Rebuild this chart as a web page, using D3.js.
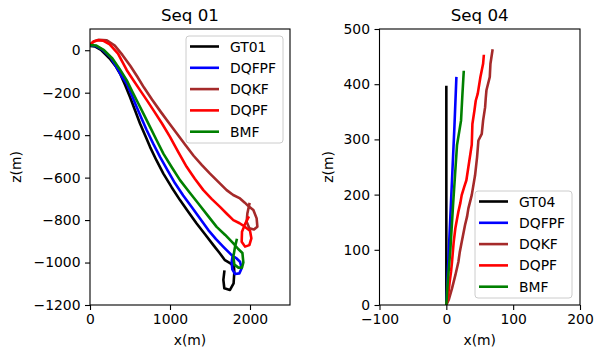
<!DOCTYPE html>
<html><head><meta charset="utf-8">
<script src="https://cdn.jsdelivr.net/npm/d3@7"></script>
<style>body{margin:0;background:#fff}svg{display:block}text{font-family:"DejaVu Sans",sans-serif;fill:#000}</style>
</head><body><svg id="c" width="597" height="350"></svg>
<script>
// ---- Data ----
const seriesNames1 = ["GT01","DQFPF","DQKF","DQPF","BMF"];
const seriesNames4 = ["GT04","DQFPF","DQKF","DQPF","BMF"];
const colors = ["#000000","#0000ff","#a52a2a","#ff0000","#008000"];

// Seq 01 (x, z)
const seq01_GT = [[0,20],[60,18],[142,0],[246,-39],[320,-75],[375,-110],[440,-165],[500,-220],[565,-285],[625,-345],[690,-402],[750,-455],[830,-518],[917,-581],[1020,-645],[1125,-706],[1230,-762],[1333,-816],[1440,-868],[1542,-918],[1620,-955],[1687,-989],[1760,-1005],[1800,-1020],[1804,-1045],[1795,-1098],[1750,-1129],[1679,-1121],[1667,-1082],[1679,-1043]];
const seq01_DQFPF = [[0,22],[70,20],[163,0],[260,-35],[340,-85],[400,-125],[458,-157],[520,-210],[583,-267],[645,-322],[708,-376],[790,-440],[875,-502],[970,-566],[1063,-627],[1165,-684],[1271,-738],[1375,-793],[1479,-847],[1575,-890],[1667,-926],[1771,-965],[1830,-980],[1875,-996],[1896,-1027],[1867,-1051],[1813,-1054],[1779,-1032],[1771,-996],[1785,-965]];
const seq01_DQKF = [[0,25],[50,42],[110,49],[210,47],[310,22],[405,-22],[505,-74],[590,-124],[675,-176],[775,-232],[880,-288],[985,-342],[1090,-395],[1195,-448],[1295,-497],[1396,-540],[1500,-581],[1604,-620],[1708,-659],[1790,-682],[1875,-698],[1935,-718],[1979,-734],[2042,-753],[2083,-792],[2092,-831],[2050,-844],[1992,-839],[1958,-808],[1967,-769],[1992,-725]];
const seq01_DQPF = [[0,25],[40,40],[100,47],[163,45],[246,28],[350,-16],[458,-93],[540,-140],[625,-188],[710,-235],[792,-282],[900,-345],[1000,-408],[1104,-480],[1208,-549],[1310,-605],[1417,-659],[1520,-700],[1625,-738],[1710,-770],[1792,-800],[1870,-815],[1930,-830],[2000,-850],[2017,-886],[1992,-918],[1938,-925],[1896,-902],[1900,-855],[1938,-819],[1979,-788]];
const seq01_BMF = [[0,24],[80,22],[175,0],[280,-39],[370,-88],[458,-141],[530,-196],[604,-251],[677,-306],[750,-361],[833,-424],[917,-487],[1020,-550],[1125,-612],[1240,-668],[1354,-722],[1470,-778],[1583,-832],[1690,-870],[1792,-910],[1850,-935],[1905,-955],[1917,-1000],[1900,-1024],[1855,-1024],[1805,-1010],[1792,-973],[1813,-926],[1833,-894]];

// Seq 04 (x, z)
const seq04_GT = [[0,0],[0,100],[0,200],[0,300],[0,395]];
const seq04_DQFPF = [[0,0],[3,80],[6,160],[9,240],[12,320],[15,411]];
const seq04_DQKF = [[0,0],[3.5,9],[8.5,30],[13.5,54],[18,78],[20,95],[23,114],[28,145],[31,160],[33,175],[38,199],[43,235],[46,268],[48,298],[53,310],[55,334],[58,358],[59,375],[60,389],[65,413],[66,437],[69,461]];
const seq04_DQPF = [[0,0],[3,20],[5,42],[7,60],[8.5,78],[10,100],[11,114],[13.5,139],[18,169],[21,185],[23,199],[27,215],[30,226],[33,250],[36,274],[38,290],[38.4,304],[39,328],[42,352],[44,370],[47,383],[51,413],[55,437],[56,451]];
const seq04_BMF = [[0,0],[2,40],[6,100],[10,180],[13,235],[16,290],[22,334],[24,380],[26,422]];

const xTicks1 = [0,1000,2000];
const yTicks1 = [0,-200,-400,-600,-800,-1000,-1200];
const xTicks4 = [-100,0,100,200];
const yTicks4 = [0,100,200,300,400,500];

// ---- Drawing ----
const svg = d3.select("#c");
const FS = 13.9;
const fmt = d => d < 0 ? "\u2212" + Math.abs(d) : String(d);

function panel(cfg){
  const g = svg.append("g");
  const x = d3.scaleLinear().domain(cfg.xd).range([cfg.left, cfg.right]);
  const y = d3.scaleLinear().domain(cfg.yd).range([cfg.bottom, cfg.top]);
  const cid = "clip"+cfg.id;
  svg.append("clipPath").attr("id",cid).append("rect")
    .attr("x",cfg.left).attr("y",cfg.top).attr("width",cfg.right-cfg.left).attr("height",cfg.bottom-cfg.top);
  const line = d3.line().x(d=>x(d[0])).y(d=>y(d[1])).curve(d3.curveLinear);
  const lg = g.append("g").attr("clip-path","url(#"+cid+")");
  cfg.series.forEach((s,i)=>{
    lg.append("path").attr("d",line(s)).attr("fill","none").attr("stroke",colors[i])
      .attr("stroke-width",2.6).attr("stroke-linejoin","round").attr("stroke-linecap","square");
  });
  // axes
  const xa = g.append("g").attr("transform","translate(0,"+cfg.bottom+")")
    .call(d3.axisBottom(x).tickValues(cfg.xt).tickFormat(fmt).tickSize(5).tickPadding(4.5));
  const ya = g.append("g").attr("transform","translate("+cfg.left+",0)")
    .call(d3.axisLeft(y).tickValues(cfg.yt).tickFormat(fmt).tickSize(5).tickPadding(4.5));
  [xa,ya].forEach(a=>{
    a.select(".domain").remove();
    a.selectAll("line").attr("stroke","#000").attr("stroke-width",1.1);
    a.selectAll("text").attr("font-size",FS).attr("font-family","DejaVu Sans");
  });
  g.append("rect").attr("x",cfg.left).attr("y",cfg.top).attr("width",cfg.right-cfg.left)
    .attr("height",cfg.bottom-cfg.top).attr("fill","none").attr("stroke","#000").attr("stroke-width",1.1);
  // title & labels
  const cx = (cfg.left+cfg.right)/2;
  g.append("text").attr("x",cx).attr("y",cfg.top-8.3).attr("text-anchor","middle").attr("font-size",16.7).text(cfg.title);
  g.append("text").attr("x",cx).attr("y",345).attr("text-anchor","middle").attr("font-size",FS).text("x(m)");
  g.append("text").attr("transform","translate("+cfg.ylx+","+((cfg.top+cfg.bottom)/2)+") rotate(-90)")
    .attr("text-anchor","middle").attr("font-size",FS).text("z(m)");
  // legend
  const L = cfg.legend;
  const lgd = g.append("g");
  lgd.append("rect").attr("x",L.x).attr("y",L.y).attr("width",L.w).attr("height",L.h).attr("rx",3)
    .attr("fill","#fff").attr("fill-opacity",0.8).attr("stroke","#cccccc").attr("stroke-width",1);
  cfg.names.forEach((n,i)=>{
    const yy = L.y + 10.5 + i*21.3;
    lgd.append("line").attr("x1",L.x+4).attr("x2",L.x+33).attr("y1",yy).attr("y2",yy)
      .attr("stroke",colors[i]).attr("stroke-width",2.6);
    lgd.append("text").attr("x",L.x+44).attr("y",yy).attr("dy","0.36em").attr("font-size",FS).text(n);
  });
}

panel({id:1,left:90,right:290,top:29,bottom:305,xd:[0,2500],yd:[-1200,100],xt:xTicks1,yt:yTicks1,
  title:"Seq 01",ylx:21,names:seriesNames1,
  series:[seq01_GT,seq01_DQFPF,seq01_DQKF,seq01_DQPF,seq01_BMF],
  legend:{x:186,y:36,w:97,h:107}});
panel({id:4,left:379.5,right:580,top:29,bottom:305,xd:[-100,200],yd:[0,500],xt:xTicks4,yt:yTicks4,
  title:"Seq 04",ylx:333,names:seriesNames4,
  series:[seq04_GT,seq04_DQFPF,seq04_DQKF,seq04_DQPF,seq04_BMF],
  legend:{x:475,y:191,w:97,h:107}});
</script></body></html>
